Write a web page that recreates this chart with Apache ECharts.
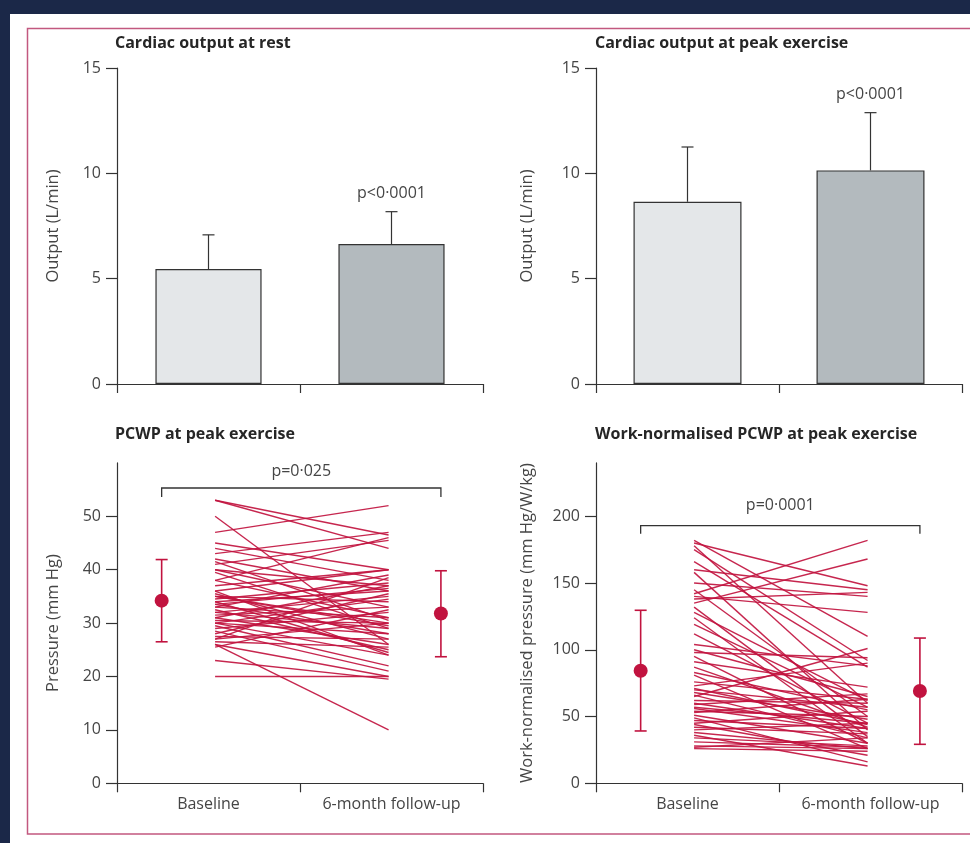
<!DOCTYPE html>
<html>
<head>
<meta charset="utf-8">
<script src="https://cdn.jsdelivr.net/npm/echarts@6/dist/echarts.min.js"></script>
<style>
  html, body { margin: 0; padding: 0; background: #ffffff; }
  #chart { width: 970px; height: 843px; }
</style>
</head>
<body>
<div id="chart"></div>
<script>
// ---- Data -------------------------------------------------------------
const groups = ['Baseline', '6-month follow-up'];

// Cardiac output (L/min): group mean and mean + SD
const restMean = [5.46, 6.64];
const restUpper = [7.08, 8.18];
const peakMean = [8.65, 10.14];
const peakUpper = [11.25, 12.88];

const outputTicks = [0, 5, 10, 15];
const pcwpTicks = [0, 10, 20, 30, 40, 50];
const wnTicks = [0, 50, 100, 150, 200];

// PCWP at peak exercise (mm Hg), one entry per patient
const pcwpBaseline = [53, 53, 50, 47, 45, 44, 43, 42, 41, 40, 40, 39.5, 38, 38, 36, 35.5, 35, 35, 34.5, 34,
  34, 33.5, 33, 33, 32.5, 32, 32, 31.5, 31, 31, 30.5, 30, 30, 30, 29, 28.5, 28, 27.5, 27, 27,
  26.5, 26, 26, 25.5, 23, 20, 36, 35, 33.5, 29.5, 41.5, 37];
const pcwpFollowUp = [46.5, 44, 26, 52, 40, 38, 47, 36, 45.5, 33, 37, 29, 46, 31, 40, 27, 34, 30, 37.5, 24.5,
  36, 28, 39, 31, 25, 35, 29, 33, 26, 37, 30, 24, 34.5, 28, 32, 21, 35.5, 27, 38.5, 30,
  25.5, 10, 20, 32.5, 19.5, 20, 24, 29.5, 36.5, 22, 30.5, 40];
const pcwpMean = [34.2, 31.8];
const pcwpLow = [26.5, 23.7];
const pcwpHigh = [41.9, 39.8];

// Work-normalised PCWP at peak exercise (mm Hg/W/kg), one entry per patient
const wnBaseline = [182, 180, 178, 175, 166, 160, 158, 150, 145, 142, 140, 138, 135, 132, 128, 124, 119, 112, 104, 100,
  98, 95, 91, 87, 83, 81, 76, 73, 71, 70, 68, 66, 65, 62, 60, 59, 57, 56, 54, 53,
  51, 49, 47, 45, 44, 42, 40, 38, 36, 34, 31, 28, 26, 27];
const wnFollowUp = [110, 148, 60, 92, 87, 145, 40, 140, 50, 182, 128, 143, 168, 35, 62, 30, 57, 45, 88, 65,
  94, 30, 72, 42, 55, 26, 63, 90, 44, 57, 48, 34, 101, 60, 41, 67, 45, 38, 50, 63,
  30, 16, 41, 54, 21, 37, 45, 26, 13, 28, 27, 26, 24, 34];
const wnMean = [84.3, 69.1];
const wnLow = [39.2, 29.2];
const wnHigh = [129.6, 108.8];

const pRest = 'p<0·0001';
const pPeak = 'p<0·0001';
const pPcwp = 'p=0·025';
const pWn = 'p=0·0001';

// ---- Layout / style ---------------------------------------------------
const FONT = '"Open Sans", "Noto Sans", sans-serif';
const CRIMSON = '#c1133f';
const AXIS = '#333333';
const TEXT = '#454545';
const SUMMARY_X = [0.122, 0.885];   // horizontal slots on the hidden 0..1 axis
const PAIR_X = [0.268, 0.742];
const BRACKET = { pcwp: 55.3, wn: 193 };

const chart = echarts.init(document.getElementById('chart'), null, { renderer: 'canvas' });

function yAxisBase(grid, max, ticks, name, gap) {
  return {
    type: 'value', gridIndex: grid, min: 0, max: max,
    name: name, nameLocation: 'middle', nameGap: gap,
    nameTextStyle: { fontFamily: FONT, fontSize: 16.5, color: TEXT },
    axisLine: { show: true, lineStyle: { color: AXIS, width: 1.2 } },
    axisTick: { show: true, length: 11, customValues: ticks, lineStyle: { color: AXIS, width: 1.2 } },
    axisLabel: { customValues: ticks, margin: 16, fontFamily: FONT, fontSize: 16, color: TEXT },
    splitLine: { show: false }
  };
}

function categoryAxis(grid, showLabels) {
  return {
    type: 'category', gridIndex: grid, data: groups, boundaryGap: true,
    axisLine: { show: true, lineStyle: { color: AXIS, width: 1.2 } },
    axisTick: { show: true, length: 9, lineStyle: { color: AXIS, width: 1.2 } },
    axisLabel: { show: showLabels, margin: 13, fontFamily: FONT, fontSize: 16, color: TEXT },
    splitLine: { show: false }
  };
}

function hiddenX(grid) {
  return { type: 'value', gridIndex: grid, min: 0, max: 1, show: false };
}

// upward SD whisker on a bar, with the significance text above the second bar
function whiskerRenderer(pText) {
  return function (params, api) {
    const base = api.coord([api.value(0), api.value(1)]);
    const top = api.coord([api.value(0), api.value(2)]);
    const cap = 6;
    const children = [
      { type: 'line', shape: { x1: base[0], y1: base[1], x2: top[0], y2: top[1] },
        style: { stroke: AXIS, lineWidth: 1.2 } },
      { type: 'line', shape: { x1: top[0] - cap, y1: top[1], x2: top[0] + cap, y2: top[1] },
        style: { stroke: AXIS, lineWidth: 1.2 } }
    ];
    if (params.dataIndex === 1) {
      children.push({ type: 'text', x: top[0], y: top[1] - 18,
        style: { text: pText, fontFamily: FONT, fontSize: 16, fill: TEXT, align: 'center', verticalAlign: 'middle' } });
    }
    return { type: 'group', children: children };
  };
}

function pairRenderer(params, api) {
  const p0 = api.coord([PAIR_X[0], api.value(1)]);
  const p1 = api.coord([PAIR_X[1], api.value(2)]);
  return { type: 'line', shape: { x1: p0[0], y1: p0[1], x2: p1[0], y2: p1[1] },
    style: { stroke: CRIMSON, lineWidth: 1.4, opacity: 0.92 } };
}

function summaryRenderer(params, api) {
  const x = SUMMARY_X[params.dataIndex];
  const c = api.coord([x, api.value(1)]);
  const lo = api.coord([x, api.value(2)]);
  const hi = api.coord([x, api.value(3)]);
  const cap = 6;
  const st = { stroke: CRIMSON, lineWidth: 1.6 };
  return { type: 'group', children: [
    { type: 'line', shape: { x1: lo[0], y1: lo[1], x2: hi[0], y2: hi[1] }, style: st },
    { type: 'line', shape: { x1: lo[0] - cap, y1: lo[1], x2: lo[0] + cap, y2: lo[1] }, style: st },
    { type: 'line', shape: { x1: hi[0] - cap, y1: hi[1], x2: hi[0] + cap, y2: hi[1] }, style: st },
    { type: 'circle', shape: { cx: c[0], cy: c[1], r: 7 }, style: { fill: CRIMSON } }
  ] };
}

function bracketRenderer(pText, drop, lift) {
  return function (params, api) {
    const a = api.coord([SUMMARY_X[0], api.value(1)]);
    const b = api.coord([SUMMARY_X[1], api.value(1)]);
    const st = { stroke: AXIS, lineWidth: 1.3, fill: null };
    return { type: 'group', children: [
      { type: 'polyline', shape: { points: [[a[0], a[1] + drop], [a[0], a[1]], [b[0], b[1]], [b[0], b[1] + drop]] }, style: st },
      { type: 'text', x: (a[0] + b[0]) / 2, y: a[1] - lift,
        style: { text: pText, fontFamily: FONT, fontSize: 16, fill: TEXT, align: 'center', verticalAlign: 'middle' } }
    ] };
  };
}

const titleStyle = { fontFamily: FONT, fontSize: 16, fontWeight: 'bold', color: '#262626' };

const option = {
  animation: false,
  backgroundColor: '#ffffff',
  graphic: [
    { type: 'rect', shape: { x: 0, y: 0, width: 970, height: 14 }, style: { fill: '#1b2848' }, silent: true },
    { type: 'rect', shape: { x: 0, y: 0, width: 10, height: 843 }, style: { fill: '#1b2848' }, silent: true },
    { type: 'rect', shape: { x: 27.5, y: 28.5, width: 960, height: 805.5 },
      style: { fill: null, stroke: '#c2587f', lineWidth: 1.5 }, silent: true }
  ],
  title: [
    { text: 'Cardiac output at rest', left: 115, top: 35, padding: 0, textStyle: titleStyle },
    { text: 'Cardiac output at peak exercise', left: 595, top: 35, padding: 0, textStyle: titleStyle },
    { text: 'PCWP at peak exercise', left: 115, top: 426, padding: 0, textStyle: titleStyle },
    { text: 'Work-normalised PCWP at peak exercise', left: 595, top: 426, padding: 0, textStyle: titleStyle }
  ],
  grid: [
    { left: 117, top: 68, width: 366, height: 316 },
    { left: 596, top: 68, width: 366, height: 316 },
    { left: 117, top: 462.9, width: 366, height: 320.4 },
    { left: 596, top: 462.9, width: 366, height: 320.4 }
  ],
  xAxis: [
    categoryAxis(0, false),
    categoryAxis(1, false),
    categoryAxis(2, true),
    categoryAxis(3, true),
    hiddenX(2),
    hiddenX(3)
  ],
  yAxis: [
    yAxisBase(0, 15, outputTicks, 'Output (L/min)', 55),
    yAxisBase(1, 15, outputTicks, 'Output (L/min)', 60),
    yAxisBase(2, 60, pcwpTicks, 'Pressure (mm Hg)', 55),
    yAxisBase(3, 240, wnTicks, 'Work-normalised pressure (mm Hg/W/kg)', 60)
  ],
  series: [
    { type: 'bar', xAxisIndex: 0, yAxisIndex: 0, barWidth: '58%',
      data: restMean.map((v, i) => ({ value: v, itemStyle: { color: i === 0 ? '#e4e7e9' : '#b3babe' } })),
      itemStyle: { borderColor: AXIS, borderWidth: 1.2 } },
    { type: 'custom', xAxisIndex: 0, yAxisIndex: 0, z: 5, clip: false,
      data: restMean.map((v, i) => [i, v, restUpper[i]]), renderItem: whiskerRenderer(pRest) },
    { type: 'bar', xAxisIndex: 1, yAxisIndex: 1, barWidth: '59%',
      data: peakMean.map((v, i) => ({ value: v, itemStyle: { color: i === 0 ? '#e4e7e9' : '#b3babe' } })),
      itemStyle: { borderColor: AXIS, borderWidth: 1.2 } },
    { type: 'custom', xAxisIndex: 1, yAxisIndex: 1, z: 5, clip: false,
      data: peakMean.map((v, i) => [i, v, peakUpper[i]]), renderItem: whiskerRenderer(pPeak) },

    { type: 'custom', xAxisIndex: 4, yAxisIndex: 2, clip: false,
      data: pcwpBaseline.map((v, i) => [i, v, pcwpFollowUp[i]]), renderItem: pairRenderer },
    { type: 'custom', xAxisIndex: 4, yAxisIndex: 2, clip: false, z: 4,
      data: pcwpMean.map((v, i) => [i, v, pcwpLow[i], pcwpHigh[i]]), renderItem: summaryRenderer },
    { type: 'custom', xAxisIndex: 4, yAxisIndex: 2, clip: false,
      data: [[0, BRACKET.pcwp]], renderItem: bracketRenderer(pPcwp, 9, 17) },

    { type: 'custom', xAxisIndex: 5, yAxisIndex: 3, clip: false,
      data: wnBaseline.map((v, i) => [i, v, wnFollowUp[i]]), renderItem: pairRenderer },
    { type: 'custom', xAxisIndex: 5, yAxisIndex: 3, clip: false, z: 4,
      data: wnMean.map((v, i) => [i, v, wnLow[i], wnHigh[i]]), renderItem: summaryRenderer },
    { type: 'custom', xAxisIndex: 5, yAxisIndex: 3, clip: false,
      data: [[0, BRACKET.wn]], renderItem: bracketRenderer(pWn, 8, 20) }
  ]
};

chart.setOption(option);
</script>
</body>
</html>
